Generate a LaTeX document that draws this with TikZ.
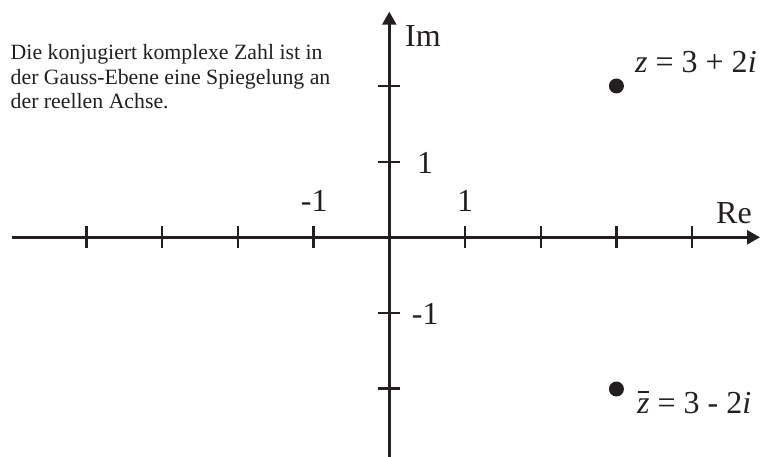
\documentclass[tikz,border=0pt]{standalone}
\usepackage{fontspec}
\setmainfont{Liberation Serif}
\usetikzlibrary{arrows.meta}
\definecolor{ink}{HTML}{231F20}
\begin{document}
\begin{tikzpicture}[x=1pt,y=-1pt,
  axis/.style={draw=ink,line width=2.4pt,-{Triangle[length=13pt,width=14pt]}},
  tickmark/.style={draw=ink,line width=2.4pt},
  lbl/.style={inner sep=0pt,anchor=base west,text=ink,font=\fontsize{32}{38}\selectfont},
  dot/.style={circle,fill=ink,inner sep=0pt,minimum size=15pt}]
\useasboundingbox (0,0) rectangle (760,457);
\coordinate (O) at (389.3,237.3);
\coordinate (xl) at (11.7,237.3);
\coordinate (xr) at (760,237.3);
\coordinate (yb) at (389.3,457);
\coordinate (yt) at (389.3,11.7);
\draw[axis] (xl) -- (xr);
\draw[axis] (yb) -- (yt);
\foreach \i in {-4,-3,-2,-1,1,2,3,4}
  \draw[tickmark] (389.3+\i*75.7,226.3) -- (389.3+\i*75.7,248.3);
\foreach \j in {-2,-1,1,2}
  \draw[tickmark] (378.3,237.3+\j*75.5) -- (400.3,237.3+\j*75.5);
\node[lbl] (im) at (405,46.7) {Im};
\node[lbl] (re) at (716,223) {Re};
\node[lbl] (y1) at (417,173.3) {1};
\node[lbl] (ym1) at (411.7,324) {-1};
\node[lbl] (xm1) at (300.7,211.7) {-1};
\node[lbl] (x1) at (457,211.7) {1};
\node[dot] (z) at (616.4,86) {};
\node[dot] (zb) at (616.4,389) {};
\node[lbl] (zl) at (635,73) {\textit{z} = 3 + 2\textit{i}};
\node[lbl] (zbl) at (637,413) {\rlap{\hspace{0.02em}\rule[0.64em]{0.36em}{0.06em}}\textit{z} = 3 - 2\textit{i}};
\node[inner sep=0pt,anchor=base west,align=left,text=ink,
  font=\fontsize{21.8}{24.5}\selectfont] (note) at (10.5,109)
  {Die konjugiert komplexe Zahl ist in\\der Gauss-Ebene eine Spiegelung an\\der reellen Achse.};
\end{tikzpicture}
\end{document}
